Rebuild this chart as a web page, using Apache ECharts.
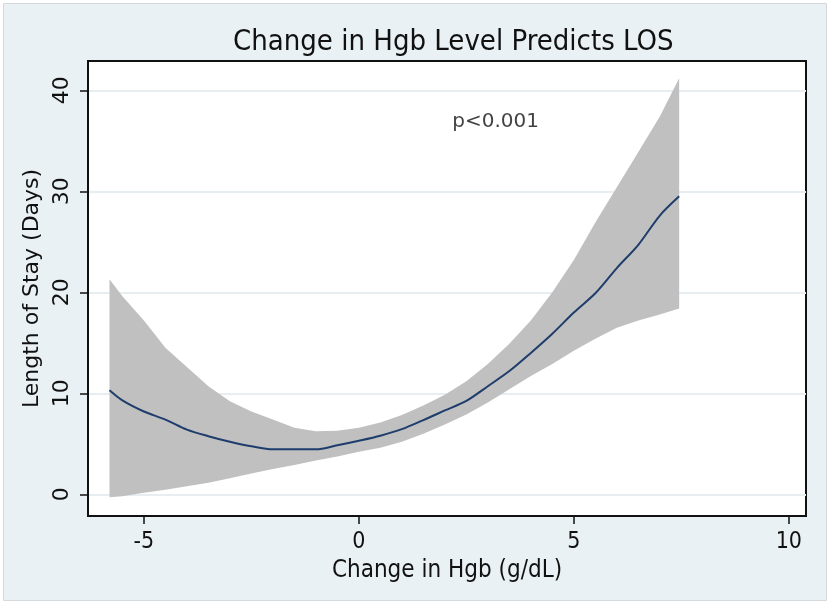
<!DOCTYPE html>
<html>
<head>
<meta charset="utf-8">
<script src="https://cdn.jsdelivr.net/npm/echarts@6/dist/echarts.min.js"></script>
<style>html,body{margin:0;padding:0;background:#fff}#c{width:832px;height:606px}</style>
</head>
<body>
<div id="c"></div>
<script>
const titleText = 'Change in Hgb Level Predicts LOS';
const xName = 'Change in Hgb (g/dL)';
const yName = 'Length of Stay (Days)';
const xTicks = [-5, 0, 5, 10];
const yTicks = [0, 10, 20, 30, 40];
const hgbChange = [-5.8,-5.5,-5.0,-4.5,-4.0,-3.5,-3.0,-2.5,-2.0,-1.5,-1.0,-0.5,0,0.5,1.0,1.5,2.0,2.5,3.0,3.5,4.0,4.5,5.0,5.5,6.0,6.5,7.0,7.45];
const losFit   = [10.3,9.3,8.2,7.4,6.4,5.75,5.2,4.75,4.45,4.45,4.45,4.85,5.3,5.8,6.45,7.35,8.3,9.25,10.7,12.2,14.0,15.9,18.0,19.9,22.4,24.7,27.6,29.5];
const losUpper = [21.3,19.6,17.2,14.5,12.6,10.7,9.2,8.2,7.4,6.6,6.25,6.3,6.6,7.1,7.85,8.8,9.85,11.2,12.9,14.9,17.2,20.0,23.2,26.9,30.4,33.9,37.4,41.2];
const losLower = [-0.3,-0.2,0.15,0.45,0.8,1.15,1.6,2.05,2.5,2.9,3.35,3.75,4.2,4.6,5.2,6.0,6.9,7.9,9.1,10.4,11.7,12.9,14.2,15.4,16.5,17.2,17.8,18.4];
const annotation = {text: 'p<0.001', x: 3.18, y: 36.9};

const narrow = '"Liberation Sans Narrow", "DejaVu Sans Condensed", sans-serif';
const wide = '"DejaVu Sans", sans-serif';
const chart = echarts.init(document.getElementById('c'), null, {renderer: 'canvas'});
const option = {
  backgroundColor: '#ffffff',
  animation: false,
  graphic: [{
    type: 'rect', z: -10, silent: true,
    shape: {x: 3.5, y: 3.5, width: 823, height: 597},
    style: {fill: '#eaf1f4', stroke: '#d3d9dc', lineWidth: 1}
  }],
  title: {
    text: titleText, left: 228, top: 23,
    textStyle: {fontFamily: narrow, fontSize: 29, fontWeight: 'normal', color: '#111'}
  },
  grid: {left: 88, right: 26, top: 61, bottom: 90, show: true, backgroundColor: '#ffffff', borderColor: '#111', borderWidth: 2},
  xAxis: {
    type: 'value', min: -6.3, max: 10.4,
    name: xName, nameLocation: 'middle', nameGap: 40,
    nameTextStyle: {fontFamily: narrow, fontSize: 24, color: '#111'},
    axisLine: {show: true, onZero: false, lineStyle: {color: '#111', width: 2}},
    axisTick: {show: true, length: 8, lineStyle: {color: '#111', width: 1.5}, customValues: xTicks},
    axisLabel: {customValues: xTicks, margin: 15, fontFamily: narrow, fontSize: 23, color: '#111'},
    splitLine: {show: false}
  },
  yAxis: {
    type: 'value', min: -2.15, max: 42.9,
    name: yName, nameLocation: 'middle', nameGap: 40, nameRotate: 90,
    nameTextStyle: {fontFamily: wide, fontSize: 22, color: '#111'},
    axisLine: {show: true, onZero: false, lineStyle: {color: '#111', width: 2}},
    axisTick: {show: true, length: 8, lineStyle: {color: '#111', width: 1.5}, customValues: yTicks},
    axisLabel: {customValues: yTicks, rotate: 90, margin: 15, fontFamily: wide, fontSize: 22, color: '#111'},
    splitLine: {show: true, lineStyle: {color: '#e6eef2', width: 2}, customValues: yTicks}
  },
  series: [
    {
      type: 'custom', coordinateSystem: 'cartesian2d', z: 1,
      data: [[hgbChange[0], losUpper[0]]],
      renderItem: function (params, api) {
        const pts = [];
        for (let i = 0; i < hgbChange.length; i++) pts.push(api.coord([hgbChange[i], losUpper[i]]));
        for (let i = hgbChange.length - 1; i >= 0; i--) pts.push(api.coord([hgbChange[i], losLower[i]]));
        return {type: 'polygon', shape: {points: pts}, style: {fill: '#c0c0c0'}};
      }
    },
    {
      type: 'line', z: 3, showSymbol: false, smooth: 0.3,
      data: hgbChange.map((x, i) => [x, losFit[i]]),
      lineStyle: {color: '#1f3d6c', width: 2}
    },
    {
      type: 'scatter', symbolSize: 0, z: 4,
      data: [[annotation.x, annotation.y]],
      label: {show: true, position: 'inside', formatter: annotation.text, fontFamily: wide, fontSize: 20, color: '#111'}
    }
  ]
};
chart.setOption(option);
</script>
</body>
</html>
